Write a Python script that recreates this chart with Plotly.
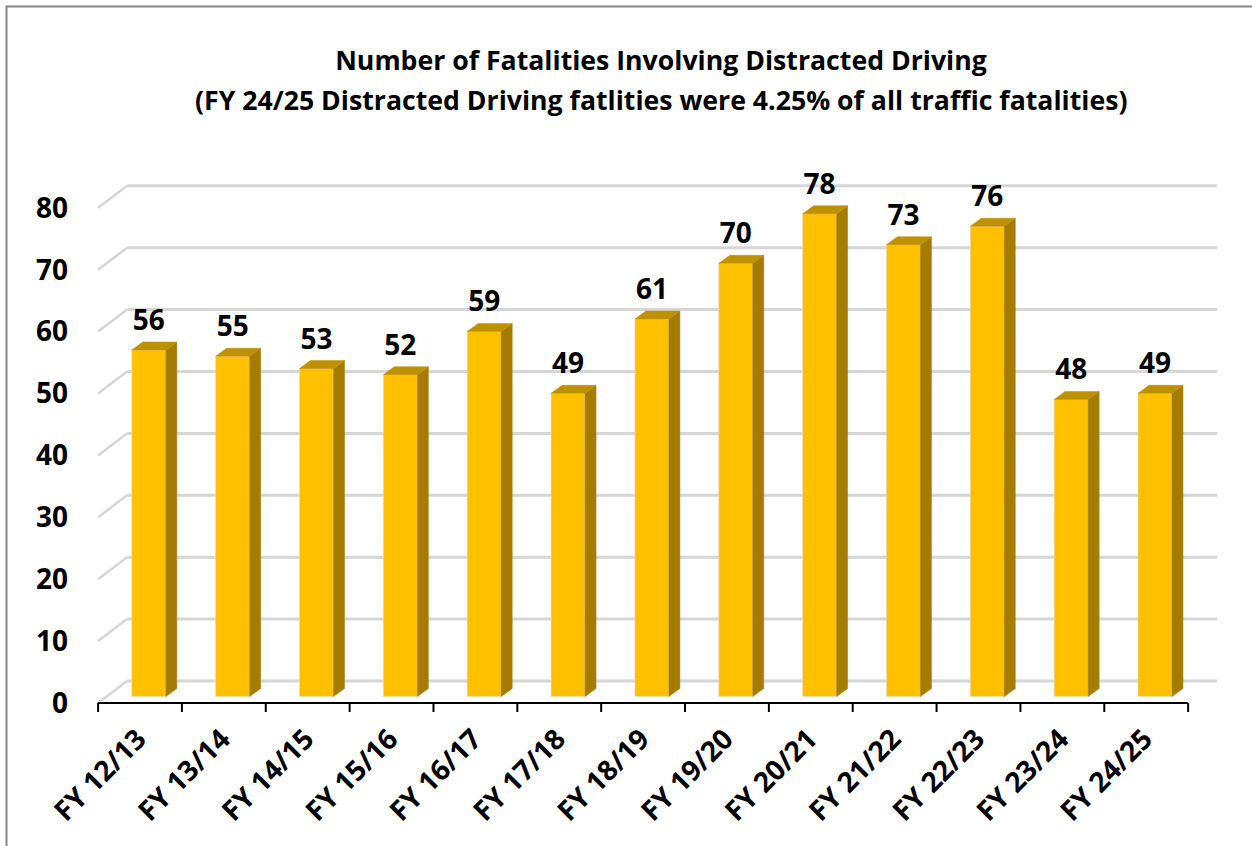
import plotly.graph_objects as go

categories = ["FY 12/13", "FY 13/14", "FY 14/15", "FY 15/16", "FY 16/17", "FY 17/18", "FY 18/19",
              "FY 19/20", "FY 20/21", "FY 21/22", "FY 22/23", "FY 23/24", "FY 24/25"]
fatalities = [56, 55, 53, 52, 59, 49, 61, 70, 78, 73, 76, 48, 49]
y_ticks = [0, 10, 20, 30, 40, 50, 60, 70, 80]
title_line_1 = "Number of Fatalities Involving Distracted Driving"
title_line_2 = "(FY 24/25 Distracted Driving fatlities were 4.25% of all traffic fatalities)"

W, H = 1252, 846
PX_X, PX_Y = 83.85, 6.19      # pixels per category / per value
X0_PX, Y0_PX = 140.0, 703.0   # pixel position of category 0 centre and value 0
L, R, T, B = 96, 1222, 150, 713

to_x = lambda px: px / PX_X
to_y = lambda px: px / PX_Y

wall_dx, wall_dy = to_x(29), to_y(22)
bar_dx, bar_dy = to_x(8.8), to_y(6.4)
bar_w = to_x(34)
side_dx, side_dy = to_x(11), to_y(8)
label_gap = to_y(27)
tick_label_shift = to_x(-2)

FONT = "Open Sans"
GRID = "#D6D6D6"

ids = list(range(len(categories)))
shapes = []
for v in y_ticks:
    shapes.append(dict(type="line", xref="x", yref="y", layer="below", x0=-0.5, y0=v,
                       x1=-0.5 + wall_dx, y1=v + wall_dy, line=dict(color=GRID, width=2.5)))
    shapes.append(dict(type="line", xref="x", yref="y", layer="below", x0=-0.5 + wall_dx, y0=v + wall_dy,
                       x1=len(ids) - 0.5 + wall_dx, y1=v + wall_dy, line=dict(color=GRID, width=3)))
# category axis line and tick marks
shapes.append(dict(type="line", xref="x", yref="y", x0=-0.5, y0=0, x1=len(ids) - 0.5, y1=0,
                   line=dict(color="black", width=2)))
for i in range(len(ids) + 1):
    shapes.append(dict(type="line", xref="x", yref="y", x0=i - 0.5, y0=0, x1=i - 0.5, y1=-to_y(9),
                       line=dict(color="black", width=2)))
# chart frame
shapes.append(dict(type="path", xref="paper", yref="paper",
                   path=f"M {6.5/W} -0.01 L {6.5/W} {1-6.5/H} L 1.01 {1-6.5/H}",
                   line=dict(color="#868686", width=2)))

fig = go.Figure()

side_x, side_y, top_x, top_y = [], [], [], []
for i, v in zip(ids, fatalities):
    xl = i + bar_dx - bar_w / 2
    xr = i + bar_dx + bar_w / 2
    yb = bar_dy
    yt = bar_dy + v
    side_x += [xr, xr + side_dx, xr + side_dx, xr, xr, None]
    side_y += [yb, yb + side_dy, yt + side_dy, yt, yb, None]
    top_x += [xl, xl + side_dx, xr + side_dx, xr, xl, None]
    top_y += [yt, yt + side_dy, yt + side_dy, yt, yt, None]

fig.add_trace(go.Scatter(x=side_x, y=side_y, mode="lines", fill="toself", fillcolor="#A67C00",
                         line=dict(color="#A67C00", width=0.5), hoverinfo="skip", showlegend=False))
fig.add_trace(go.Scatter(x=top_x, y=top_y, mode="lines", fill="toself", fillcolor="#BF9000",
                         line=dict(color="#BF9000", width=0.5), hoverinfo="skip", showlegend=False))
fig.add_trace(go.Bar(x=[i + bar_dx for i in ids], y=fatalities, base=bar_dy, width=bar_w,
                     marker=dict(color="#FFC000", line=dict(color="#E4DCC4", width=0.6)),
                     showlegend=False))
fig.add_trace(go.Scatter(x=[i + bar_dx for i in ids], y=[v + bar_dy + label_gap for v in fatalities],
                         mode="text", text=[str(v) for v in fatalities], textposition="middle center",
                         textfont=dict(family=FONT, size=28, color="black", weight=700),
                         cliponaxis=False, hoverinfo="skip", showlegend=False))

fig.update_layout(
    width=W, height=H, margin=dict(l=0, r=0, t=0, b=0, autoexpand=False), autosize=False,
    paper_bgcolor="white", plot_bgcolor="rgba(0,0,0,0)", showlegend=False, shapes=shapes,
    title=dict(text=title_line_1, x=661 / W, xanchor="center", y=1 - 61 / H, yanchor="middle",
               font=dict(family=FONT, size=26.67, color="black", weight=700)),
    annotations=[dict(text=title_line_2, xref="paper", yref="paper", x=660.5 / W, y=1 - 100 / H,
                      xanchor="center", yanchor="middle", showarrow=False,
                      font=dict(family=FONT, size=26.67, color="black", weight=700))],
    xaxis=dict(domain=[L / W, R / W], range=[(L - X0_PX) / PX_X, (R - X0_PX) / PX_X], automargin=False,
               tickvals=[i + tick_label_shift for i in ids], ticktext=categories, tickangle=-45,
               showgrid=False, zeroline=False, showline=False, ticks="", ticklabelstandoff=3,
               tickfont=dict(family=FONT, size=28, color="black", weight=700)),
    yaxis=dict(domain=[1 - B / H, 1 - T / H], range=[(Y0_PX - B) / PX_Y, (Y0_PX - T) / PX_Y], automargin=False,
               tickvals=y_ticks, showgrid=False, zeroline=False, showline=False, ticks="",
               ticklabelstandoff=27,
               tickfont=dict(family=FONT, size=28, color="black", weight=700)),
)

fig.write_html("out.html", config=dict(displayModeBar=False),
               post_script="document.body.style.margin='0';document.body.style.overflow='hidden';")
